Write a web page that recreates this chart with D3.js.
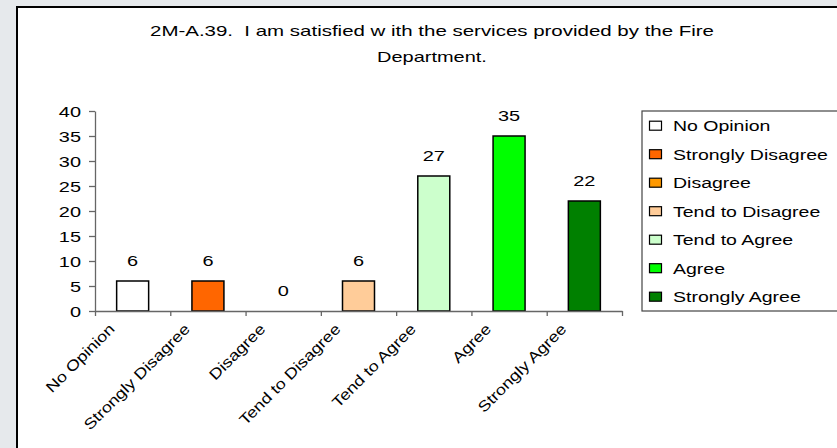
<!DOCTYPE html>
<html><head><meta charset="utf-8">
<script src="https://cdn.jsdelivr.net/npm/d3@7"></script>
<style>
html,body{margin:0;padding:0;background:#e6e9ec;}
svg{display:block;}
text{font-family:"Liberation Sans",Arial,sans-serif;fill:#000;white-space:pre;}
</style></head>
<body>
<svg id="chart" width="837" height="448"></svg>
<script>
const titleLines = ["2M-A.39.  I am satisfied w ith the services provided by the Fire", "Department."];
const categories = ["No Opinion","Strongly Disagree","Disagree","Tend to Disagree","Tend to Agree","Agree","Strongly Agree"];
const values = [6,6,0,6,27,35,22];
const colors = ["#FFFFFF","#FF6600","#FF9900","#FFCC99","#CCFFCC","#00FF00","#008000"];
const yTicks = [0,5,10,15,20,25,30,35,40];

const SX = 1.33; // horizontal stretch of glyphs seen in the reference
const FS = 15;

const svg = d3.select("#chart");
svg.append("rect").attr("x",0).attr("y",0).attr("width",837).attr("height",448).attr("fill","#e6e9ec");
svg.append("rect").attr("x",17).attr("y",7).attr("width",830).attr("height",450)
  .attr("fill","#fff").attr("stroke","#000").attr("stroke-width",2);

// title
const tl = [[titleLines[0],35.7,564],[titleLines[1],62,null]];
tl.forEach(([t,y,len])=>{
  const el = svg.append("text").attr("x",432).attr("y",y).attr("text-anchor","middle")
    .attr("font-size",FS).text(t);
  const w = el.node().getComputedTextLength();
  el.attr("textLength", len || w*SX).attr("lengthAdjust","spacingAndGlyphs");
});

const x0 = 95, x1 = 622, yBase = 311, yTop = 111;
const x = d3.scaleBand().domain(categories).range([x0,x1]).paddingInner(0.575).paddingOuter(0.2875);
const xEdge = d3.scaleLinear().domain([0,categories.length]).range([x0,x1]);
const y = d3.scaleLinear().domain([0,40]).range([yBase,yTop]);

// bars
svg.append("g").selectAll("rect").data(values).join("rect")
  .attr("x",(d,i)=>x(categories[i]))
  .attr("y",d=>y(d))
  .attr("width",x.bandwidth())
  .attr("height",d=>yBase-y(d))
  .attr("fill",(d,i)=>colors[i])
  .attr("stroke","#000").attr("stroke-width",1.5)
  .attr("display",d=>d>0?null:"none");

// value labels
svg.append("g").selectAll("text").data(values).join("text")
  .attr("transform",(d,i)=>`translate(${x(categories[i])+x.bandwidth()/2},${y(d)-14.6}) scale(${SX},1)`)
  .attr("text-anchor","middle").attr("font-size",FS).text(d=>d);

// y axis
const gy = svg.append("g").attr("transform",`translate(${x0},0)`)
  .call(d3.axisLeft(y).tickValues(yTicks).tickSize(6).tickSizeOuter(0));
gy.select(".domain").attr("stroke","#666").attr("stroke-width",1.3);
gy.selectAll(".tick line").attr("stroke","#666").attr("stroke-width",1.3);
gy.selectAll(".tick text").attr("x",null).attr("dy",null)
  .attr("transform",`translate(-14,5.4) scale(${SX},1)`)
  .attr("font-size",FS).attr("font-family",null).attr("fill","#000");

// x axis (category boundaries)
const gx = svg.append("g").attr("transform",`translate(0,${yBase})`)
  .call(d3.axisBottom(xEdge).tickValues(d3.range(categories.length+1)).tickSize(5).tickSizeOuter(0).tickFormat(""));
gx.select(".domain").attr("stroke","#666").attr("stroke-width",1.3);
gx.selectAll(".tick line").attr("stroke","#666").attr("stroke-width",1.3);

// category labels
svg.append("g").selectAll("text").data(categories).join("text")
  .attr("transform",d=>`translate(${x(d)+x.bandwidth()/2-17},${yBase+19}) rotate(-45) scale(1.2,1)`)
  .attr("text-anchor","end").attr("font-size",FS).text(d=>d);

// legend
const lg = svg.append("g");
const lx = 642, ly0 = 111, step = 28.5;
lg.append("rect").attr("x",lx).attr("y",ly0).attr("width",200).attr("height",yBase-ly0)
  .attr("fill","#fff").attr("stroke","#444").attr("stroke-width",1.2);
const items = lg.selectAll("g.item").data(categories).join("g").attr("class","item")
  .attr("transform",(d,i)=>`translate(${lx},${ly0+14.7+i*step})`);
items.append("rect").attr("x",7.5).attr("y",-4.5).attr("width",12).attr("height",9)
  .attr("fill",(d,i)=>colors[i]).attr("stroke","#000").attr("stroke-width",1.2);
items.append("text").attr("transform",`translate(31,5.4) scale(1.3,1)`)
  .attr("font-size",FS).text(d=>d);
</script>
</body></html>
